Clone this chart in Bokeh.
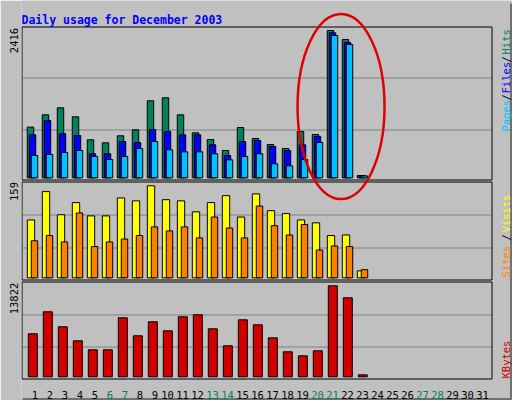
from bokeh.plotting import figure
from bokeh.models import ColumnDataSource, Range1d, FixedTicker
from bokeh.transform import dodge
from bokeh.core.properties import value
from bokeh.embed import file_html
from bokeh.resources import INLINE

# ---------------- data ----------------
days = list(range(1, 24))
all_days = list(range(1, 32))
weekend_days = [6, 7, 13, 14, 20, 21, 27, 28]

hits = [831, 1033, 1148, 1000, 623, 574, 689, 787, 1263, 1312, 1033, 738,
        628, 448, 825, 645, 546, 481, 759, 710, 2416, 2268, 38]
files = [705, 940, 722, 694, 394, 394, 595, 579, 792, 759, 705, 705,
         541, 366, 595, 612, 513, 448, 541, 677, 2378, 2219, 35]
pages = [366, 382, 415, 448, 349, 300, 349, 481, 595, 459, 426, 426,
         394, 295, 349, 394, 230, 197, 300, 579, 2334, 2186, 30]
visits = [100, 149, 109, 130, 107, 107, 138, 133, 159, 135, 133, 114,
          130, 142, 105, 145, 116, 111, 100, 95, 73, 74, 12]
sites = [64, 73, 62, 112, 54, 62, 67, 73, 88, 81, 88, 69,
         105, 86, 69, 124, 90, 74, 92, 48, 55, 54, 14]
kbytes = [6532, 9874, 7595, 5468, 4101, 4101, 8962, 6228, 8354, 6987, 9114, 9418,
          7291, 4709, 8658, 7899, 5924, 3798, 3190, 3949, 13822, 12000, 304]

title_text = "Daily usage for December 2003"
# hand-drawn highlight around the spike (days 21-23)
highlight_day = 21.57
highlight_halfwidth_days = 2.9

# ---------------- style / layout ----------------
BG = "#C0C0C0"
GRID = "#808080"
C_HITS, C_FILES, C_PAGES = "#00805C", "#0000FF", "#00C0FF"
C_VISITS, C_SITES, C_KB = "#FFFF00", "#FF8000", "#D00000"
FONT = "DejaVu Sans Mono"
FS = "10.5px"
CW = 6.3            # char advance at FS
W, H = 512, 400     # canvas
LEFT = 21           # left border (axis)
PX_PER_DAY = 15
DAY1_PX = 32


def xd(px):
    """canvas pixel -> day units"""
    return 1 + (px - DAY1_PX) / PX_PER_DAY


# panels: (top, bottom, bar base, top of the tallest bar) in canvas pixels
P1 = (26, 180, 177.3, 30.0)
P2 = (181, 280, 277.3, 185.3)
P3 = (281, 379, 376.3, 285.3)


def panel_range(panel, maxval):
    top, bottom, base, maxtop = panel
    s = (base - maxtop) / maxval
    return Range1d(start=-(H - base) / s, end=base / s)


x_range = Range1d(xd(LEFT), xd(W))
p = figure(frame_width=W - LEFT, frame_height=H, x_range=x_range,
           y_range=Range1d(start=H, end=0), x_axis_location=None,
           output_backend="svg", toolbar_location=None,
           min_border_left=LEFT, min_border_right=0, min_border_top=0, min_border_bottom=0,
           background_fill_color=BG, border_fill_color=BG, outline_line_color=None)
p.extra_y_ranges = {"hits": panel_range(P1, max(hits)),
                    "visits": panel_range(P2, max(visits)),
                    "kbytes": panel_range(P3, max(kbytes))}
p.grid.visible = False

# left axis: the maximum of every panel, written up its top end
maxlabels = [str(max(hits)), str(max(visits)), str(max(kbytes))]
ticks = [round(P[0] + 1 + CW / 2 * len(l)) for P, l in zip((P1, P2, P3), maxlabels)]
ax = p.yaxis[0]
ax.ticker = FixedTicker(ticks=ticks)
ax.major_label_overrides = {t: l for t, l in zip(ticks, maxlabels)}
ax.major_label_orientation = "vertical"
ax.major_label_standoff = -2
ax.major_label_text_font = FONT
ax.major_label_text_font_size = FS
ax.major_label_text_color = "black"
ax.axis_line_color = None
ax.major_tick_line_color = None
ax.minor_tick_line_color = None

# gridlines at thirds of every panel
gy = []
for P in (P1, P2, P3):
    for k in (1, 2):
        gy.append(round(P[0] + (P[1] - P[0]) * k / 3) + 0.5)
p.segment(x0=xd(22), x1=xd(491), y0=gy, y1=gy, line_color=GRID, line_width=1)

src = ColumnDataSource(dict(day=days, hits=hits, files=files, pages=pages,
                            visits=visits, sites=sites, kbytes=kbytes))

# ---- bars ----
p.vbar(x=dodge("day", -2 / 15), top="hits", width=0.43, source=src, y_range_name="hits",
       fill_color=C_HITS, line_color="black")
p.vbar(x=dodge("day", 0), top="files", width=0.43, source=src, y_range_name="hits",
       fill_color=C_FILES, line_color="black")
p.vbar(x=dodge("day", 2 / 15), top="pages", width=0.43, source=src, y_range_name="hits",
       fill_color=C_PAGES, line_color="black")
p.vbar(x=dodge("day", -1.5 / 15), top="visits", width=0.49, source=src, y_range_name="visits",
       fill_color=C_VISITS, line_color="black")
p.vbar(x=dodge("day", 2 / 15), top="sites", width=0.43, source=src, y_range_name="visits",
       fill_color=C_SITES, line_color="black")
p.vbar(x=dodge("day", 0.3 / 15), top="kbytes", width=0.6, source=src, y_range_name="kbytes",
       fill_color=C_KB, line_color="black")

# ---- panel frames ----
p.quad(left=xd(21.5), right=xd(491.5),
       top=[P[0] + 0.5 for P in (P1, P2, P3)],
       bottom=[P[1] - 0.5 for P in (P1, P2, P3)],
       fill_color=None, line_color="black", line_width=1)

# outer shadow of the image
p.segment(x0=[xd(510.5), xd(22)], x1=[xd(510.5), xd(511)], y0=[3, 398.5], y1=[399, 398.5],
          line_color="#707070", line_width=2)

# ---- title ----
p.text(x=[xd(21)], y=[19.5], text=[title_text], text_font=value(FONT),
       text_font_style="bold", text_font_size="11.5px", text_color="#0000FF",
       text_align="left", text_baseline="alphabetic")

# ---- legends on the right, written upwards ----
leg_text = ["Pages", "/", "Files", "/", "Hits", "Sites", "/", "Visits", "KBytes"]
leg_color = [C_PAGES, "black", C_FILES, "black", C_HITS, C_SITES, "black", C_VISITS, C_KB]
leg_start = [131, 100, 93, 62, 54, 277, 240, 232, 378]
p.text(x=[xd(505)] * len(leg_text), y=leg_start, text=leg_text, text_color=leg_color,
       angle=90, angle_units="deg", text_font=value(FONT), text_font_size=FS,
       text_align="left", text_baseline="alphabetic")

# ---- day labels ----
lab_src = ColumnDataSource(dict(
    x=all_days,
    text=[str(d) for d in all_days],
    color=[C_HITS if d in weekend_days else "black" for d in all_days],
    xoff=[2.5 if d < 10 else 0 for d in all_days],
))
p.text(x="x", y=394, text="text", source=lab_src, x_offset="xoff", text_color="color",
       text_font=value(FONT), text_font_size=FS, text_align="center",
       text_baseline="alphabetic")

# ---- hand-drawn red ellipse ----
p.ellipse(x=[highlight_day], y=[106], width=[2 * highlight_halfwidth_days], height=[185],
          fill_color=None, line_color="#E00000", line_width=2.5)

open("out.html", "w").write(file_html(p, INLINE, title_text))
